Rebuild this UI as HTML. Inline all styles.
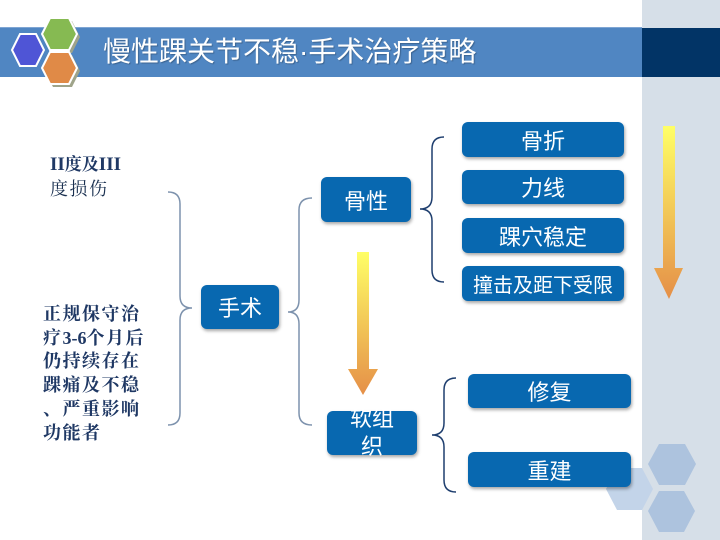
<!DOCTYPE html>
<html>
<head>
<meta charset="utf-8">
<style>
  html,body{margin:0;padding:0;}
  body{width:720px;height:540px;position:relative;overflow:hidden;background:#ffffff;
       font-family:"Liberation Sans","Noto Sans CJK SC",sans-serif;}
  .abs{position:absolute;}
  .box{position:absolute;background:#0868b0;border-radius:6px;box-shadow:1px 2px 3px rgba(0,0,0,0.35);
       color:#fff;font-family:"Liberation Sans","Noto Sans CJK SC",sans-serif;font-size:22px;
       display:flex;align-items:center;justify-content:center;text-align:center;}
  .ltxt{position:absolute;color:#1f3864;font-family:"Liberation Serif","Noto Serif CJK SC",serif;
        font-weight:bold;font-size:18px;letter-spacing:1.5px;white-space:nowrap;}
  .lat{letter-spacing:0;font-size:18px;}
</style>
</head>
<body>
<svg class="abs" style="left:0;top:0" width="720" height="540" viewBox="0 0 720 540">
  <defs>
    <linearGradient id="g1" gradientUnits="userSpaceOnUse" x1="0" y1="126" x2="0" y2="299">
      <stop offset="0" stop-color="#ffff66"/>
      <stop offset="1" stop-color="#e58f48"/>
    </linearGradient>
    <linearGradient id="g2" gradientUnits="userSpaceOnUse" x1="0" y1="252" x2="0" y2="395">
      <stop offset="0" stop-color="#ffff66"/>
      <stop offset="1" stop-color="#e58f48"/>
    </linearGradient>
  </defs>
  <rect x="642" y="0" width="78" height="540" fill="#d6dfe8"/>
  <rect x="0" y="27" width="642" height="50" fill="#5086c2"/>
  <rect x="0" y="27" width="642" height="1" fill="#7ea5d3"/>
  <rect x="642" y="28" width="78" height="49" fill="#023466"/>
  <polygon points="45,37 53,21 72,21 80,37 72,53 53,53" fill="#9fa48a"/>
  <polygon points="45,71 53,55 72,55 80,71 72,87 53,87" fill="#9fa48a"/>
  <polygon points="12,50 20,34 36,34 44,50 36,66 20,66" fill="#4f55d6" stroke="#ffffff" stroke-width="2"/>
  <polygon points="42,34 50,18 69,18 77,34 69,50 50,50" fill="#86ba52" stroke="#ffffff" stroke-width="2"/>
  <polygon points="42,68 50,52 69,52 77,68 69,84 50,84" fill="#e08a47" stroke="#ffffff" stroke-width="2"/>

  <polygon points="606,489 617,468 642,468 653,489 642,510 617,510" fill="#c3d4e9"/>
  <polygon points="648,464 659,444 685,444 696,464 685,485 659,485" fill="#adc3de"/>
  <polygon points="648,511 659,491 684,491 695,511 684,532 659,532" fill="#adc3de"/>

  <path d="M168,192 Q180,192 180,204 L180,296 Q180,308 192,308 Q180,308 180,320 L180,413 Q180,425 168,425" fill="none" stroke="#7d92ad" stroke-width="1.5"/>
  <path d="M312,198 Q299,198 299,210 L299,300 Q299,312 288,312 Q299,312 299,324 L299,413 Q299,425 312,425" fill="none" stroke="#7d92ad" stroke-width="1.5"/>
  <path d="M444,137 Q432,137 432,149 L432,197 Q432,209 420,209 Q432,209 432,221 L432,270 Q432,282 444,282" fill="none" stroke="#1f3f6f" stroke-width="1.5"/>
  <path d="M456,378 Q444,378 444,390 L444,423 Q444,435 432,435 Q444,435 444,447 L444,480 Q444,492 456,492" fill="none" stroke="#1f3f6f" stroke-width="1.5"/>

  <rect x="663" y="126" width="12" height="143" fill="url(#g1)"/>
  <polygon points="654,268 683,268 669,299" fill="url(#g1)"/>
  <rect x="357" y="252" width="12" height="118" fill="url(#g2)"/>
  <polygon points="348,369 378,369 363,395" fill="url(#g2)"/>
</svg>

<div class="abs" style="left:103px;top:33px;height:38px;line-height:38px;color:#fff;font-size:28px;font-family:'Liberation Sans','Noto Sans CJK SC',sans-serif;white-space:nowrap;text-shadow:1px 1px 1px rgba(0,0,0,0.25);">慢性踝关节不稳·手术治疗策略</div>

<div class="ltxt" style="left:50px;top:152px;line-height:25px;"><span class="lat" style="font-size:19px;">II</span><span style="letter-spacing:0;font-size:17px;">度及</span><span class="lat" style="font-size:19px;">III</span><br><span style="font-weight:normal;color:#1a3050;">度损伤</span></div>
<div class="ltxt" style="left:43px;top:303px;line-height:23.7px;">正规保守治<br>疗<span class="lat">3-6</span>个月后<br>仍持续存在<br>踝痛及不稳<br>、严重影响<br>功能者</div>

<div class="box" style="left:201px;top:285px;width:78px;height:44px;">手术</div>
<div class="box" style="left:321px;top:177px;width:90px;height:45px;">骨性</div>
<div class="box" style="left:327px;top:411px;width:90px;height:44px;line-height:28px;">软组<br>织</div>

<div class="box" style="left:462px;top:122px;width:162px;height:35px;">骨折</div>
<div class="box" style="left:462px;top:170px;width:162px;height:34px;">力线</div>
<div class="box" style="left:462px;top:218px;width:162px;height:35px;">踝穴稳定</div>
<div class="box" style="left:462px;top:266px;width:162px;height:35px;font-size:20px;">撞击及距下受限</div>

<div class="box" style="left:468px;top:374px;width:163px;height:34px;">修复</div>
<div class="box" style="left:468px;top:452px;width:163px;height:35px;">重建</div>
</body>
</html>
